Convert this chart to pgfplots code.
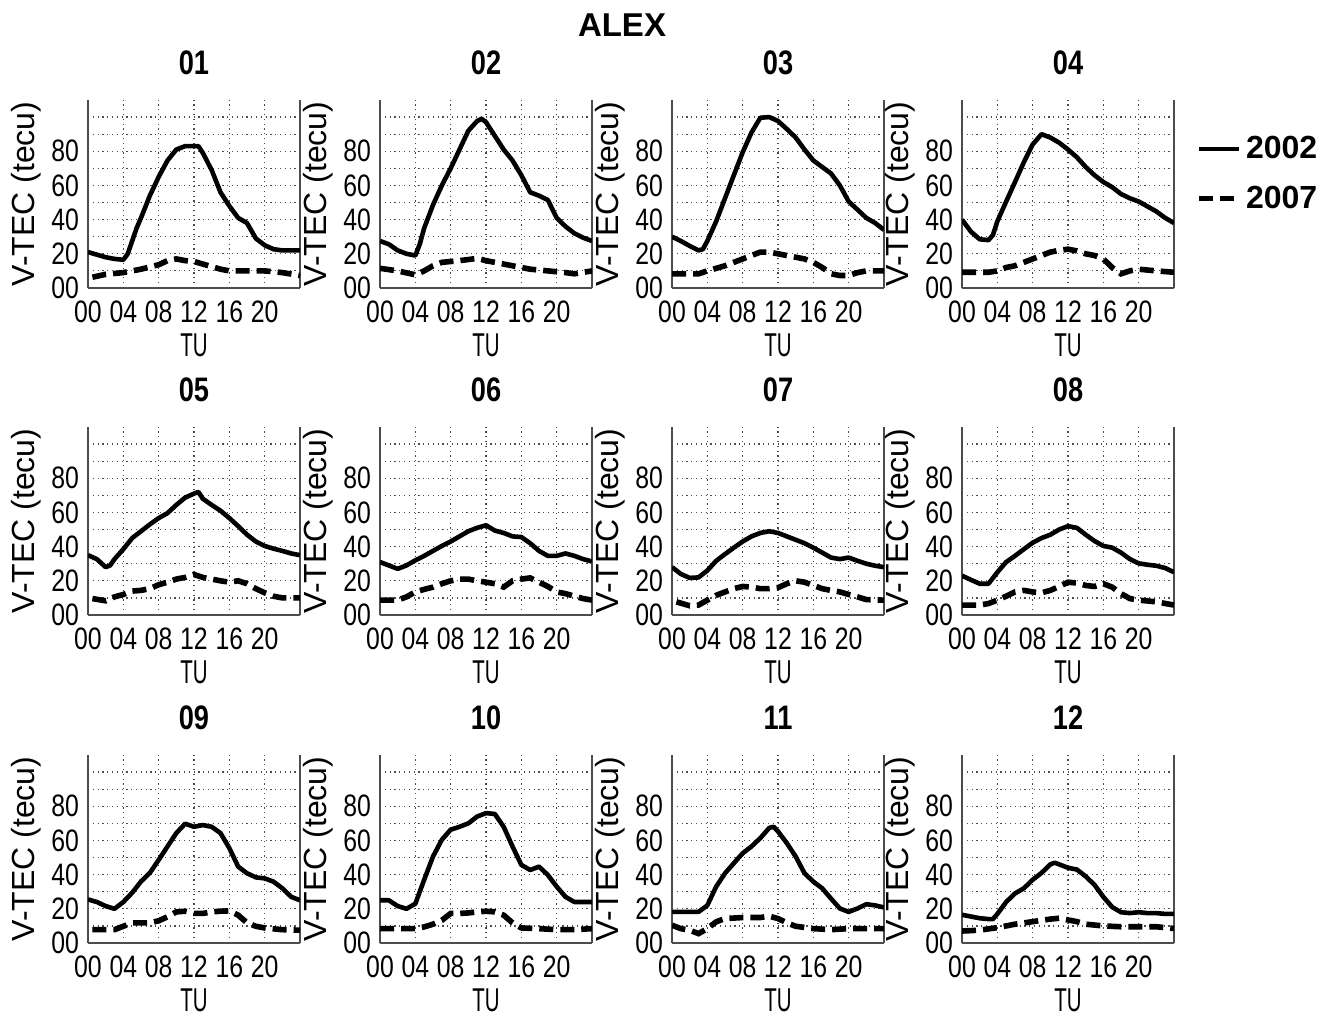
\documentclass[border=0pt]{standalone}
\usepackage{fontspec}
\setmainfont{Liberation Sans}
\newfontfamily\narrowfont[FakeStretch=0.8]{Liberation Sans}
\newfontfamily\tufont[FakeStretch=0.62]{Liberation Sans}
\usepackage{pgfplots}
\pgfplotsset{compat=1.18}

\pgfplotsset{
  panel/.style={
    scale only axis, width=106pt, height=94pt,
    xmin=0, xmax=24, ymin=0, ymax=110,
    axis x line*=bottom, axis y line*=box,
    xtick={0,4,...,20}, xticklabels={00,04,08,12,16,20},
    ytick={0,10,...,100}, yticklabels={00,,20,,40,,60,,80,,},
    major tick length=0pt,
    grid=major,
    grid style={black!70, line width=0.6pt, dash pattern=on 0.6pt off 1.8pt},
    axis line style={black!70, line width=0.8pt},
    /pgf/number format/assume math mode=true,
    tick label style={font=\narrowfont\fontsize{15.5}{15.5}\selectfont},
    xticklabel style={anchor=center, yshift=-12pt},
    yticklabel style={anchor=east, xshift=-1pt},
    ylabel={V-TEC (tecu)},
    xlabel={TU},
    ylabel style={at={(axis description cs:-0.2925,0.5)}, anchor=center, font=\fontsize{16}{16}\selectfont},
    xlabel style={at={(axis description cs:0.5,-0.303)}, anchor=center, font=\tufont\fontsize{16.5}{16.5}\selectfont},
    every axis title/.style={at={(axis description cs:0.5,1.138)}, anchor=base, font=\narrowfont\bfseries\fontsize{17}{17}\selectfont},
  },
  s2002/.style={black, line width=2.3pt, line join=round},
  s2007/.style={black, line width=2.8pt, dash pattern=on 7pt off 3.5pt},
}

\begin{document}
\begin{tikzpicture}
\path[use as bounding box] (0,0) rectangle (668pt,510.5pt);

\node[font=\bfseries\fontsize{16.5}{16.5}\selectfont, anchor=base] at (311pt,492pt) {ALEX};

% ---------------- Row 1 ----------------
\begin{axis}[panel, title={01}, at={(44pt,366.5pt)}, anchor=south west]
\addplot[s2002] coordinates {(0,21)(1,19.5)(2,18)(3,17)(4,16.5)(4.5,20)(5.5,35)(6,41)(7,54)(8,65)(9,74.6)(10,81)(11,83)(12,83)(12.5,83)(13,79)(14,69)(15,56)(16,48)(17,41)(18,38)(19,29)(20,25)(21,22.7)(22,22)(24,22)};
\addplot[s2007] coordinates {(0.5,6.3)(2,8)(4,9)(5,10)(6,11)(8,13.6)(9,16)(10,17)(11,16)(12,15.5)(13,14)(14,12.5)(15,11)(16,10)(18,10)(20,10)(22,9)(24,7.3)};
\end{axis}

\begin{axis}[panel, title={02}, at={(190pt,366.5pt)}, anchor=south west]
\addplot[s2002] coordinates {(0,27.5)(1,25.6)(2,22)(3,20)(4,19)(4.5,25.6)(5,35)(6,48.6)(7,60)(8,70)(9,81)(10,92)(11,97.7)(11.5,99)(12,97)(13,89)(14,81)(15,74.6)(16,66)(17,56)(18,54)(19,51.5)(20,41)(21,36)(22,32)(23,29.4)(24,27.5)};
\addplot[s2007] coordinates {(0,11.5)(2,10)(4,7.7)(5,10)(6,13)(7,15)(9,16)(11,17.3)(12,16)(13,15)(15,13)(17,11)(19,10)(21,9)(22,8.3)(24,10)};
\end{axis}

\begin{axis}[panel, title={03}, at={(336pt,366.5pt)}, anchor=south west]
\addplot[s2002] coordinates {(0,30)(1,27.5)(2,24.6)(3,22)(3.5,22.7)(4,27.5)(5,39)(6,52.5)(7,66)(8,79.4)(9,91)(10,99.6)(11,100)(12,97.7)(13,93)(14,88)(15,81)(16,74.6)(17,70.8)(18,67)(19,60)(20,50.6)(21,45.8)(22,41)(23,38)(24,34)};
\addplot[s2007] coordinates {(0,8.3)(3,8.3)(4,10)(6,13)(7,15)(8,17)(9,19)(10,21)(11,21)(12,20)(13,19)(14,18)(15,17)(16,15)(17,12)(18,8.3)(19,7.3)(20,7.3)(21,9)(22,10)(24,10)};
\end{axis}

\begin{axis}[panel, title={04}, at={(481pt,366.5pt)}, anchor=south west,
  legend style={at={(axis description cs:1,1)}, anchor=north west, xshift=8pt, yshift=-14pt,
    draw=none, fill=none, font=\bfseries\fontsize{16}{16}\selectfont, row sep=8pt, cells={anchor=west}},
  legend image code/.code={\draw[#1] (0pt,0pt) -- (20pt,0pt);}]
\addplot[s2002] coordinates {(0,40)(1,33)(2,28.5)(3,28)(3.5,31)(4,39)(5,50.6)(6,62)(7,73.6)(8,84)(9,90)(10,88)(11,85)(12,81)(13,76.5)(14,70.8)(15,66)(16,62)(17,59)(18,55)(19,52.5)(20,50.6)(21,47.7)(22,44.8)(23,41)(24,38)};
\addlegendentry{2002}
\addplot[s2007] coordinates {(0,9.2)(3,9.2)(4,10)(5,12)(6,13)(7,15)(8,17)(9,19)(10,21)(11,22)(12,22.7)(13,21.7)(14,20)(15,19)(16,17)(17,12)(18,8.3)(19,10)(20,11)(22,10)(24,9.2)};
\addlegendentry{2007}
\end{axis}

% ---------------- Row 2 ----------------
\begin{axis}[panel, title={05}, at={(44pt,203pt)}, anchor=south west]
\addplot[s2002] coordinates {(0,35)(1,32.7)(2,28)(2.5,29)(3,32.7)(4,38.5)(5,45)(6,49)(7,53)(8,56.7)(9,59.6)(10,64.4)(11,68.7)(12,71)(12.5,72)(13,68)(14,64.4)(15,61)(16,56.7)(17,52)(18,47)(19,43)(20,40.4)(21,38.8)(22,37.5)(23,36)(24,35)};
\addplot[s2007] coordinates {(0.5,9.6)(2,8.3)(3,10.6)(4,12)(5,14)(6,14.4)(7,15.4)(8,17.7)(9,19.2)(10,21)(11,22)(12,23.7)(13,22)(14,21)(15,20)(16,19.2)(17,20)(18,18.3)(19,15.4)(20,13)(21,11)(22,10)(24,10)};
\end{axis}

\begin{axis}[panel, title={06}, at={(190pt,203pt)}, anchor=south west]
\addplot[s2002] coordinates {(0,31)(1,29)(2,27)(3,29)(4,32)(5,34.6)(6,37.5)(7,40.4)(8,43)(9,46)(10,49)(11,51)(12,52.5)(13,49.4)(14,48)(15,46)(16,45.6)(17,42)(18,37.5)(19,34.6)(20,34.6)(21,36)(22,34.6)(23,32.7)(24,31.3)};
\addplot[s2007] coordinates {(0,8.7)(2,8.7)(3,10.6)(4,13.5)(5,15)(6,16.3)(7,18.3)(8,20)(9,21)(10,21)(11,20)(12,19.2)(13,18.3)(14,16.3)(15,20)(16,21)(17,21.7)(18,19.2)(19,16.7)(20,13.5)(21,12.5)(22,11)(23,9.6)(24,8.7)};
\end{axis}

\begin{axis}[panel, title={07}, at={(336pt,203pt)}, anchor=south west]
\addplot[s2002] coordinates {(0,28)(1,24)(2,21.7)(3,22)(4,26)(5,31.7)(6,35.6)(7,39.4)(8,43)(9,46)(10,48)(11,49)(12,48)(13,46)(14,44)(15,42)(16,39.4)(17,36.5)(18,33.6)(19,32.7)(20,33.6)(21,31.7)(22,30)(23,28.8)(24,28)};
\addplot[s2007] coordinates {(0.5,7.7)(2,5.4)(3,5.8)(4,8.7)(5,11.5)(6,13.5)(7,15.4)(8,16.7)(9,16.3)(10,15.4)(11,15.4)(12,16)(13,18.3)(14,20)(15,19.2)(16,17.3)(17,15.4)(18,14.4)(19,13.5)(20,12)(21,10.6)(22,9)(24,8.7)};
\end{axis}

\begin{axis}[panel, title={08}, at={(481pt,203pt)}, anchor=south west]
\addplot[s2002] coordinates {(0,23)(1,20.6)(2,18.3)(3,18.3)(4,25)(5,31)(6,34.6)(7,38.5)(8,42.3)(9,45)(10,47)(11,50)(12,52)(13,51)(14,47)(15,43.3)(16,40.4)(17,39.4)(18,36.5)(19,32.7)(20,30.2)(21,29.4)(22,28.8)(23,27.5)(24,25)};
\addplot[s2007] coordinates {(0,5.8)(2,5.8)(3,6.7)(4,8.7)(5,11)(6,13.5)(7,14.4)(8,13.5)(9,13)(10,14.4)(11,16.7)(12,19.2)(13,18.7)(14,17.3)(15,16.7)(16,18.3)(17,16.3)(18,12.5)(19,9.6)(20,8.7)(22,7.7)(24,5.8)};
\end{axis}

% ---------------- Row 3 ----------------
\begin{axis}[panel, title={09}, at={(44pt,39pt)}, anchor=south west]
\addplot[s2002] coordinates {(0,25.5)(1,24)(2,21.6)(3,20)(4,24)(5,29.4)(6,36)(7,41)(8,48.6)(9,56.5)(10,64.3)(11,69.8)(12,68)(13,69)(14,68)(15,64.3)(16,55.5)(17,44.7)(18,40.8)(19,38.4)(20,37.8)(21,35.9)(22,32)(23,27)(24,25)};
\addplot[s2007] coordinates {(0.5,7.8)(3,7.8)(4,9.8)(5,11.8)(7,11.8)(8,13)(9,15.3)(10,18.2)(11,18.6)(12,17.3)(13,17.3)(14,18.2)(15,18.6)(16,18.8)(17,16.3)(18,11.8)(19,9.8)(20,8.8)(22,7.8)(24,7.5)};
\end{axis}

\begin{axis}[panel, title={10}, at={(190pt,39pt)}, anchor=south west]
\addplot[s2002] coordinates {(0,25)(1,25)(2,21.6)(3,20)(4,23)(5,37)(6,50.6)(7,60.4)(8,66.3)(9,68)(10,70)(11,74)(12,76)(13,75.5)(14,68)(15,56.5)(16,45.7)(17,42.7)(18,44.7)(19,39.8)(20,33)(21,27)(22,24)(23,24)(24,24)};
\addplot[s2007] coordinates {(0,8.4)(3,8.4)(4,8.4)(5,9.4)(6,11)(7,13.3)(8,17.3)(9,17.3)(10,17.6)(11,18.2)(12,18.6)(13,18.2)(14,16.3)(15,11.8)(16,8.8)(18,8.4)(20,7.8)(22,7.8)(24,8.4)};
\end{axis}

\begin{axis}[panel, title={11}, at={(336pt,39pt)}, anchor=south west]
\addplot[s2002] coordinates {(0,18.2)(2,18.2)(3,18.2)(4,22)(5,33)(6,40.8)(7,46.7)(8,52.5)(9,56.5)(10,61.4)(11,67.3)(11.5,68)(12,65.3)(13,58.4)(14,50.6)(15,40.8)(16,35.9)(17,32)(18,26)(19,20.2)(20,18.2)(21,20.2)(22,22.7)(23,22)(24,20.8)};
\addplot[s2007] coordinates {(0,10.4)(1,8.4)(2,7.5)(3,5.5)(4,8.4)(5,12.4)(6,14.3)(8,14.9)(10,14.9)(11,15.7)(12,14.3)(13,11.8)(14,9.8)(16,8.4)(18,7.8)(20,8.4)(22,8.4)(24,8.4)};
\end{axis}

\begin{axis}[panel, title={12}, at={(481pt,39pt)}, anchor=south west]
\addplot[s2002] coordinates {(0,16.5)(1,15.5)(2,14.5)(3,14)(3.5,14)(4,17)(5,24)(6,29)(7,32)(8,37)(9,41)(10,46)(10.5,47)(11,46)(12,44)(13,43)(14,39)(15,34)(16,27)(17,21)(18,18)(19,17.5)(20,18)(21,17.5)(22,17.5)(23,17)(24,17)};
\addplot[s2007] coordinates {(0,7)(2,7.5)(4,9)(6,11)(8,12.5)(10,14)(11,14.5)(12,13.5)(13,12.5)(14,11)(16,10)(18,9.5)(20,9.5)(22,9.5)(24,8.5)};
\end{axis}

\end{tikzpicture}
\end{document}
